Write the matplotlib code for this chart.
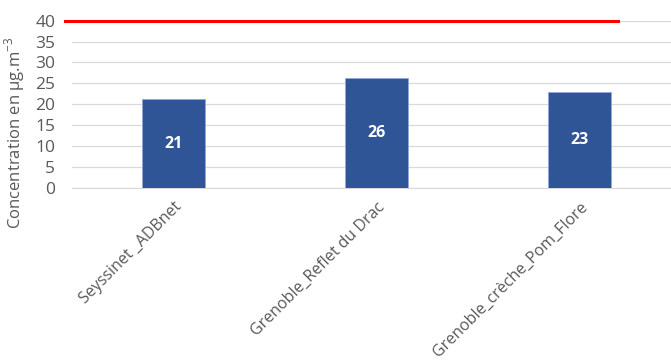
import matplotlib.pyplot as plt

# Data
sites = ['Seyssinet _ADBnet', 'Grenoble_Reflet du Drac', 'Grenoble_crèche_Pom_Flore']
values = [21.2, 26.3, 23.0]
labels = ['21', '26', '23']
limit = 40

plt.rcParams['font.family'] = ['Open Sans', 'DejaVu Sans']

fig = plt.figure(figsize=(6.71, 3.61), dpi=100)
ax = fig.add_axes([0.107, 0.479, 0.893, 0.464])

x = range(len(sites))
bars = ax.bar(x, values, width=0.31, color='#2F5597', edgecolor='#8FAADC', linewidth=0.6, zorder=3)
for b, lab in zip(bars, labels):
    ax.text(b.get_x() + b.get_width() / 2, b.get_height() / 2, lab,
            ha='center', va='center', color='white', fontsize=11.5, fontweight='bold', zorder=4)

# limit value line
ax.plot([-0.535, 2.19], [limit, limit], color='#FF0000', linewidth=2.2, clip_on=False, zorder=5)

ax.set_xlim(-0.5, 2.45)
ax.set_ylim(0, 40)
ax.set_yticks(range(0, 45, 5))
ax.grid(axis='y', color='#D9D9D9', linewidth=0.9, zorder=0)
for s in ['top', 'right', 'left']:
    ax.spines[s].set_visible(False)
ax.spines['bottom'].set_color('#D9D9D9')
ax.tick_params(length=0, colors='#595959', labelsize=12.5)
ax.tick_params(axis='y', pad=12)
ax.set_xticks(list(x))
ax.set_xticklabels(sites, rotation=45, ha='right', rotation_mode='anchor', fontsize=11.5)
ax.tick_params(axis='x', pad=8)
ax.set_ylabel('Concentration en µg.m$^{\\mathregular{-3}}$', color='#595959', fontsize=12)
ax.yaxis.set_label_coords(-0.075, 0.33)

fig.savefig('out.png', dpi=100)
